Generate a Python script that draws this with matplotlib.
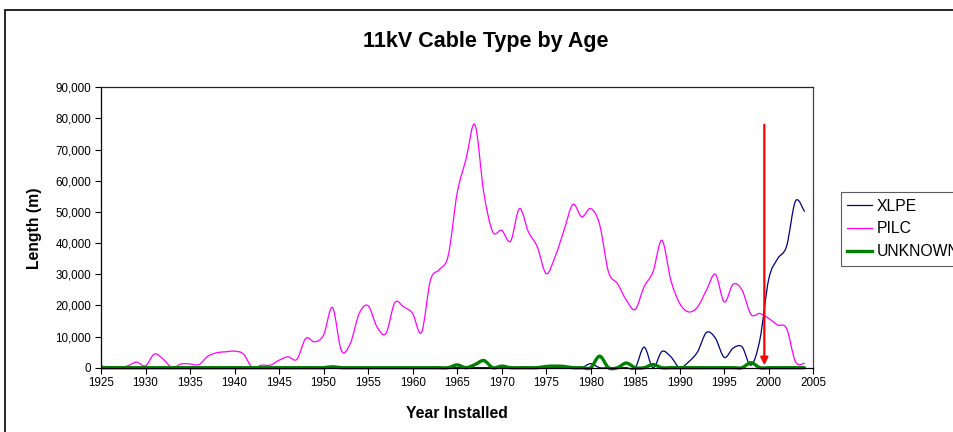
import numpy as np
import matplotlib
matplotlib.use("Agg")
import matplotlib.pyplot as plt
from matplotlib.path import Path
from matplotlib.patches import PathPatch, Rectangle
from matplotlib.lines import Line2D
from matplotlib.ticker import FuncFormatter, MultipleLocator

plt.rcParams['font.family'] = ['Liberation Sans', 'DejaVu Sans']

years = list(range(1925, 2005))

pilc = [500, 300, 100, 600, 1800, 600, 4400, 2700, 0, 1200,
        1200, 1000, 3700, 4800, 5100, 5300, 4400, 0, 800, 800,
        2400, 3500, 2700, 9400, 8300, 10500, 19300, 5500, 7800, 17400,
        19900, 13100, 11000, 20900, 19500, 17400, 11300, 28100, 31500, 36000,
        56000, 67000, 78000, 56000, 43600, 44100, 40600, 51100, 43600, 38800,
        30200, 35600, 44100, 52400, 48400, 51100, 46000, 30700, 27000, 21700,
        18700, 26000, 30800, 40900, 28100, 20600, 17900, 19500, 24900, 30000,
        21100, 26800, 24900, 17100, 17400, 15800, 13700, 12600, 1900, 1400]

xlpe = [0] * 55 + [1300, 0, 0, 0, 0,
                   0, 6600, 0, 5200, 3500, 0, 1900, 5100, 11300, 9500,
                   3300, 6300, 6700, 800, 9000, 28500, 35000, 39000, 53500, 50200]

unknown = [0] * 26 + [300, 0, 0, 0,
                      0, 0, 0, 0, 0, 0, 0, 0, 0, 0,
                      900, 0, 1000, 2300, 0, 500, 0, 0, 0, 0,
                      400, 500, 400, 0, 0, 0, 3700, 0, 0, 1500,
                      0, 0, 1000, 0, 0, 0, 0, 0, 0, 0,
                      0, 0, 0, 1600, 0, 0, 0, 0, 0, 0]

series_names = ["XLPE", "PILC", "UNKNOWN"]
series_colors = ["#000080", "#FF00FF", "#008000"]
series_widths = [0.9, 0.9, 2.4]

arrow_year = 1999.5
arrow_top = 78000
arrow_bottom = 800


def smooth_path(x, y):
    P = np.column_stack([np.asarray(x, float), np.asarray(y, float)])
    n = len(P)
    verts = [P[0]]
    codes = [Path.MOVETO]
    for i in range(n - 1):
        p0 = P[i - 1] if i > 0 else P[i]
        p3 = P[i + 2] if i + 2 < n else P[i + 1]
        c1 = P[i] + (P[i + 1] - p0) / 6.0
        c2 = P[i + 1] - (p3 - P[i]) / 6.0
        verts += [c1, c2, P[i + 1]]
        codes += [Path.CURVE4] * 3
    return Path(verts, codes)


fig = plt.figure(figsize=(9.54, 4.32), dpi=100)
fig.patch.set_facecolor("white")
ax = fig.add_axes([101 / 954, 1 - 367.7 / 432, (813.3 - 101) / 954, (367.7 - 87.3) / 432])

ax.set_xlim(1925, 2005)
ax.set_ylim(0, 90000)

clip_rect = Rectangle((0, -0.012), 1, 1.024, transform=ax.transAxes, visible=False)
ax.add_patch(clip_rect)

for vals, name, col, lw in zip([xlpe, pilc, unknown], series_names, series_colors, series_widths):
    patch = PathPatch(smooth_path(years, vals), fill=False, edgecolor=col, linewidth=lw,
                      capstyle='round', joinstyle='round')
    ax.add_patch(patch)
    patch.set_clip_path(clip_rect)

ax.annotate("", xy=(arrow_year, arrow_bottom), xytext=(arrow_year, arrow_top),
            arrowprops=dict(arrowstyle="-|>", color="#FF0000", lw=1.6,
                            mutation_scale=11, shrinkA=0, shrinkB=0))

ax.xaxis.set_major_locator(MultipleLocator(5))
ax.yaxis.set_major_locator(MultipleLocator(10000))
ax.yaxis.set_major_formatter(FuncFormatter(lambda v, p: f"{int(v):,}"))
ax.tick_params(axis='both', direction='out', length=4, width=0.8, labelsize=8.4, colors='black')
ax.tick_params(axis='x', pad=2.5)
ax.tick_params(axis='y', pad=3)
for s in ax.spines.values():
    s.set_linewidth(0.9)
    s.set_color('black')
ax.spines['top'].set_color('#222222')
ax.spines['right'].set_color('#444444')

fig.text(486 / 954, 1 - 42 / 432, "11kV Cable Type by Age", ha='center', va='center',
         fontsize=15.5, fontweight='bold')
fig.text(35 / 954, 1 - 228 / 432, "Length (m)", ha='center', va='center', rotation=90,
         fontsize=11.3, fontweight='bold')
fig.text(457 / 954, 1 - 413 / 432, "Year Installed", ha='center', va='center',
         fontsize=11.3, fontweight='bold')

# chart area border
fig.add_artist(Rectangle((5 / 954, -0.2), 1.5, 1.2 - 10 / 432, transform=fig.transFigure,
                         fill=False, edgecolor='black', linewidth=1.2))

handles = [Line2D([], [], color=c, lw=w) for c, w in zip(series_colors, series_widths)]
leg = fig.legend(handles, series_names, loc='upper left',
                 bbox_to_anchor=(840.7 / 954, 1 - 192.3 / 432),
                 fontsize=11.3, frameon=True, fancybox=False, shadow=False,
                 handlelength=1.6, handletextpad=0.3, labelspacing=0.5,
                 borderpad=0.4, borderaxespad=0)
leg.get_frame().set_edgecolor('#333333')
leg.get_frame().set_linewidth(0.8)

fig.savefig("out.png", dpi=100, facecolor='white')
